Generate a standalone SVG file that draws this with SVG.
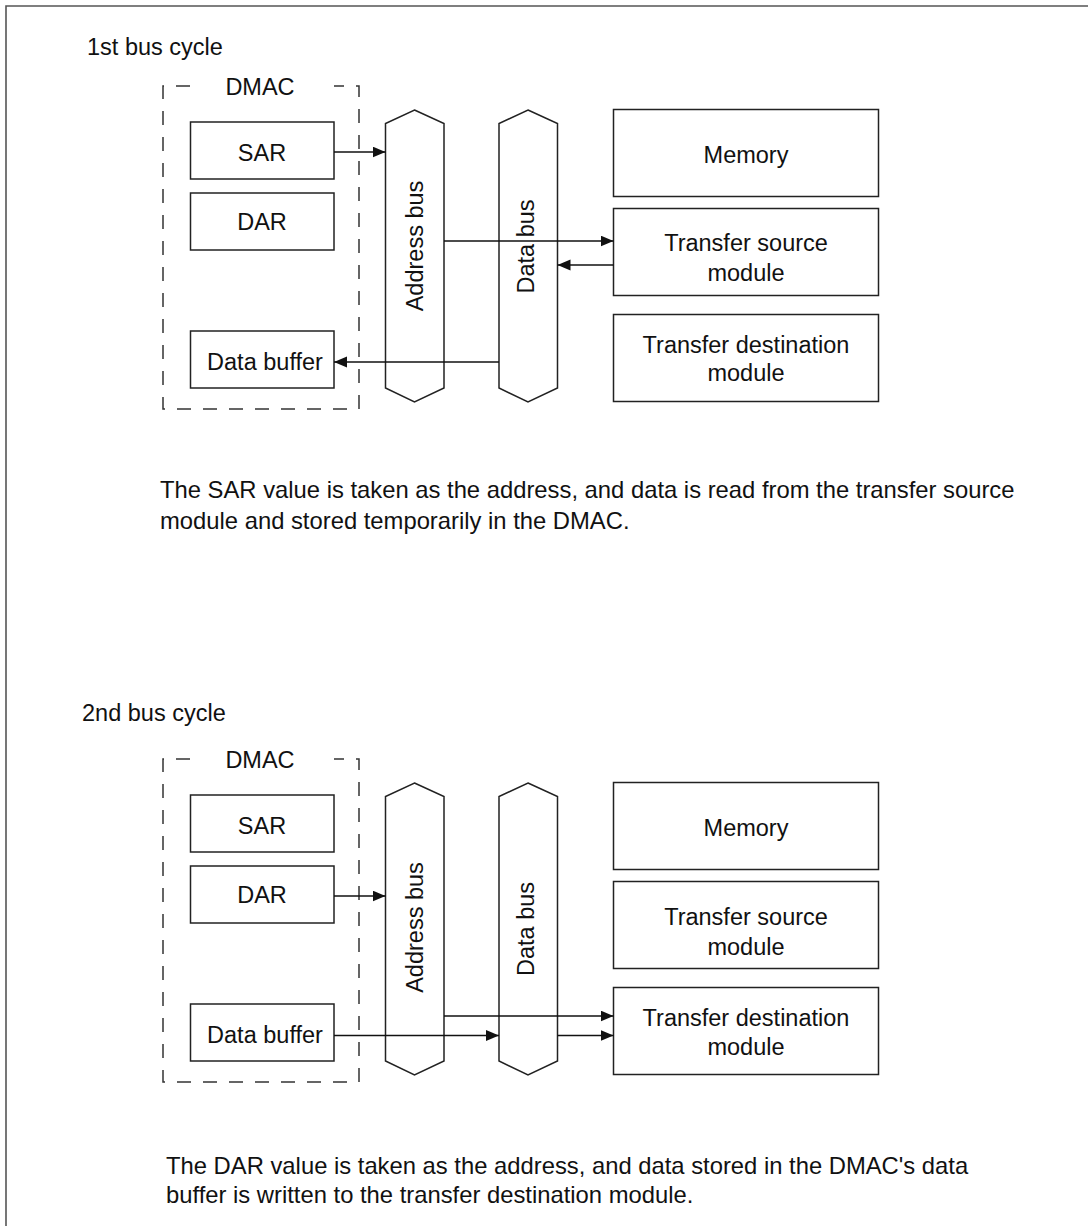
<svg xmlns="http://www.w3.org/2000/svg" width="1088" height="1226" viewBox="0 0 1088 1226">
<style>
text { font-family: "Liberation Sans", Arial, sans-serif; font-size: 23.5px; fill: #111; }
.p { font-size: 23.8px; }
.c { text-anchor: middle; }
.box { fill: #fff; stroke: #222; stroke-width: 1.5; }
.bus { fill: #fff; stroke: #222; stroke-width: 1.5; }
.dash { fill: none; stroke: #333; stroke-width: 1.5; stroke-dasharray: 14 12; }
.frame { fill: none; stroke: #555; stroke-width: 1.6; }
.conn line { stroke: #111; stroke-width: 1.4; marker-end: url(#arr); }
</style>
<defs>
<marker id="arr" markerUnits="userSpaceOnUse" markerWidth="14" markerHeight="12" refX="13" refY="5.5" orient="auto">
<path d="M0,0 L13,5.5 L0,11 z" fill="#111"/>
</marker>
</defs>
<rect width="1088" height="1226" fill="#fff"/>
<path class="frame" d="M6,1226 V6 H1088"/>

<text id="title1" x="87" y="55">1st bus cycle</text>

<g id="dmac1">
<path class="dash" d="M190,86 H163 V409 H359 V86 H334"/>
<text class="c" x="260" y="95">DMAC</text>
</g>
<g id="sar1"><rect class="box" x="190.5" y="122" width="143.5" height="57"/><text class="c" x="262" y="160.5">SAR</text></g>
<g id="dar1"><rect class="box" x="190.5" y="193" width="143.5" height="57"/><text class="c" x="262" y="230">DAR</text></g>
<g id="buf1"><rect class="box" x="190.5" y="331" width="143.5" height="57"/><text class="c" x="265" y="370">Data buffer</text></g>
<g id="abus1"><polygon class="bus" points="414.5,110 444,123.5 444,388 414.5,402 385.5,388 385.5,123.5"/><text class="c" transform="translate(423,246) rotate(-90)">Address bus</text></g>
<g id="dbus1"><polygon class="bus" points="528,110 557.5,123.5 557.5,388 528,402 499,388 499,123.5"/><text class="c" transform="translate(534,246.5) rotate(-90)">Data bus</text></g>
<g id="mem1"><rect class="box" x="613.5" y="109.5" width="265" height="87"/><text class="c" x="746" y="163">Memory</text></g>
<g id="src1"><rect class="box" x="613.5" y="208.5" width="265" height="87"/><text class="c" x="746" y="251">Transfer source</text><text class="c" x="746" y="280.5">module</text></g>
<g id="dst1"><rect class="box" x="613.5" y="314.5" width="265" height="87"/><text class="c" x="746" y="352.5">Transfer destination</text><text class="c" x="746" y="381">module</text></g>

<g id="conn1" class="conn">
<line x1="334" y1="152" x2="385.5" y2="152"/>
<line x1="444" y1="241" x2="613.5" y2="241"/>
<line x1="613.5" y1="265" x2="557.5" y2="265"/>
<line x1="499" y1="362" x2="334" y2="362"/>
</g>

<text id="desc1a" class="p" x="160" y="498">The SAR value is taken as the address, and data is read from the transfer source</text>
<text id="desc1b" class="p" x="160" y="529">module and stored temporarily in the DMAC.</text>

<text id="title2" x="82" y="721">2nd bus cycle</text>

<g id="dmac2">
<path class="dash" d="M190,759 H163 V1082 H359 V759 H334"/>
<text class="c" x="260" y="768">DMAC</text>
</g>
<g id="sar2"><rect class="box" x="190.5" y="795" width="143.5" height="57"/><text class="c" x="262" y="833.5">SAR</text></g>
<g id="dar2"><rect class="box" x="190.5" y="866" width="143.5" height="57"/><text class="c" x="262" y="903">DAR</text></g>
<g id="buf2"><rect class="box" x="190.5" y="1004" width="143.5" height="57"/><text class="c" x="265" y="1043">Data buffer</text></g>
<g id="abus2"><polygon class="bus" points="414.5,783 444,796.5 444,1061 414.5,1075 385.5,1061 385.5,796.5"/><text class="c" transform="translate(423,927.5) rotate(-90)">Address bus</text></g>
<g id="dbus2"><polygon class="bus" points="528,783 557.5,796.5 557.5,1061 528,1075 499,1061 499,796.5"/><text class="c" transform="translate(534,929) rotate(-90)">Data bus</text></g>
<g id="mem2"><rect class="box" x="613.5" y="782.5" width="265" height="87"/><text class="c" x="746" y="836">Memory</text></g>
<g id="src2"><rect class="box" x="613.5" y="881.5" width="265" height="87"/><text class="c" x="746" y="925">Transfer source</text><text class="c" x="746" y="954.5">module</text></g>
<g id="dst2"><rect class="box" x="613.5" y="987.5" width="265" height="87"/><text class="c" x="746" y="1026">Transfer destination</text><text class="c" x="746" y="1055">module</text></g>

<g id="conn2" class="conn">
<line x1="334" y1="896" x2="385.5" y2="896"/>
<line x1="444" y1="1016" x2="613.5" y2="1016"/>
<line x1="334" y1="1035.5" x2="499" y2="1035.5"/>
<line x1="557.5" y1="1035.5" x2="613.5" y2="1035.5"/>
</g>

<text id="desc2a" class="p" x="166" y="1174">The DAR value is taken as the address, and data stored in the DMAC's data</text>
<text id="desc2b" class="p" x="166" y="1203">buffer is written to the transfer destination module.</text>
</svg>
